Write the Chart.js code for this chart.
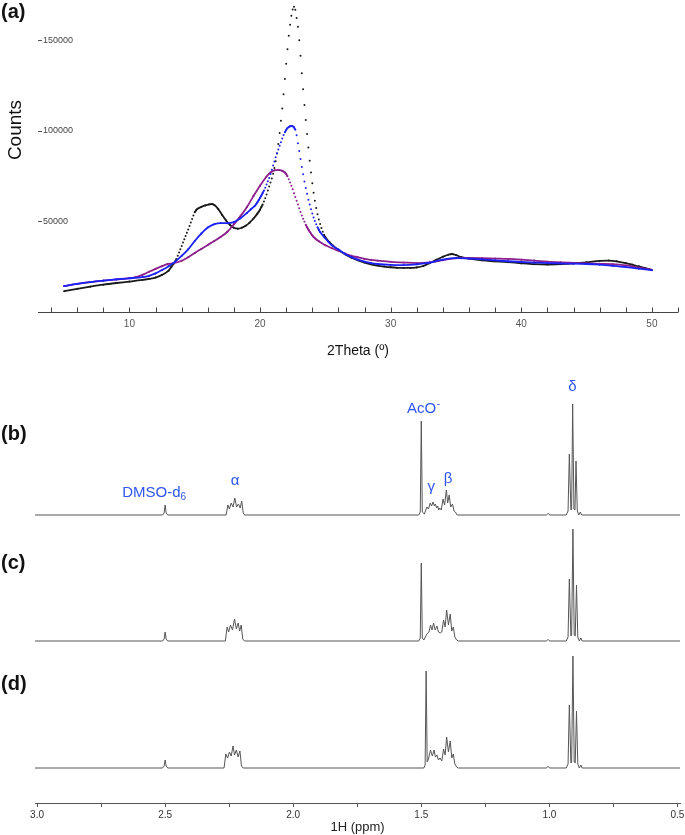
<!DOCTYPE html>
<html><head><meta charset="utf-8">
<script src="https://cdn.jsdelivr.net/npm/chart.js@4.4.1/dist/chart.umd.min.js"></script>
<style>
html,body{margin:0;padding:0;background:#fff;width:685px;height:835px;overflow:hidden;font-family:"Liberation Sans",Arial,Helvetica,sans-serif}
canvas{position:absolute;left:0}
.panel{position:absolute;left:1px;font-weight:bold;font-size:20px;line-height:20px;color:#111}
#counts{position:absolute;left:-25px;top:119px;width:80px;height:22px;line-height:22px;text-align:center;font-size:19px;color:#111;transform:rotate(-90deg);transform-origin:50% 50%}
</style></head>
<body>
<canvas id="xrd" width="685" height="365" style="top:0"></canvas>
<canvas id="nmrB" width="685" height="155" style="top:370px"></canvas>
<canvas id="nmrC" width="685" height="135" style="top:515px"></canvas>
<canvas id="nmrD" width="685" height="190" style="top:645px"></canvas>
<div class="panel" style="top:1px">(a)</div>
<div class="panel" style="top:423px">(b)</div>
<div class="panel" style="top:552px">(c)</div>
<div class="panel" style="top:673px">(d)</div>
<div id="counts">Counts</div>
<script>
// ---------------- XRD data: [2Theta (deg), counts] ----------------
const xrdBlack = [[5,11500],[6,12800],[7,14000],[8,15100],[9,16000],[10,16800],[11,17700],[11.5,18300],[12,19000],[12.5,20500],[13,22800],[13.2,24800],
[13.4,26800],[13.5,27900],[13.6,29200],[13.7,31000],[13.8,32800],[13.9,34600],[14.0,36400],[14.1,38300],[14.2,40200],[14.3,42000],[14.4,43800],[14.5,45600],[14.6,47400],[14.7,49400],[14.8,51400],[14.9,53300],[15.0,55000],[15.1,56100],[15.2,56900],
[15.5,58000],[15.8,58800],[16.1,59400],[16.3,59600],[16.5,59000],[16.8,56800],[17.1,53500],[17.4,50500],[17.7,48000],[18.0,46500],[18.3,46000],[18.6,46500],[18.9,47600],[19.2,49300],[19.5,51600],
[19.8,54300],[19.9,55400],[20.0,56500],[20.1,57900],[20.2,59300],[20.3,61000],[20.4,62800],[20.5,64800],[20.6,67000],[20.7,69300],[20.8,71500],[20.9,73700],[21.0,76300],[21.1,79500],[21.2,83200],[21.3,87500],[21.4,92700],[21.5,98800],[21.6,105500],[21.7,112300],[21.8,120200],[21.9,128600],[22.0,137000],[22.1,145000],[22.2,152500],[22.3,158600],[22.4,163500],[22.5,167000],[22.6,168500],[22.7,166800],[22.8,162300],[22.9,157500],[23.0,150000],[23.1,141500],[23.2,131800],[23.3,123000],[23.4,114300],[23.5,106000],[23.6,98300],[23.7,90800],[23.8,83500],[23.9,77000],[24.0,71000],[24.1,65800],[24.2,61400],[24.3,57400],[24.4,54000],[24.5,51000],[24.6,48600],[24.7,46300],[24.8,44300],[24.9,42600],[25.0,41200],
[25.3,38700],[25.6,36500],[26,34300],[26.5,31900],[27,30000],[27.5,28500],[28,27300],[28.5,26300],[29,25600],[29.5,25100],[30,24700],[30.5,24400],[31,24300],[31.5,24300],[32,24600],[32.5,25400],[33,27000],[33.5,28800],[34,30500],[34.4,31600],[34.7,32000],[35,31400],[35.4,30300],[36,29500],[37,28500],[38,28000],[39,27500],[40,26900],[41,26400],[42,26200],[43,26400],[44,26800],[45,27400],[46,28200],[46.7,28400],[47.3,28000],[48,27000],[48.5,26100],[49,25200],[49.5,24200],[50,23200]];

const xrdBlue = [[5,14300],[6,15500],[7,16500],[8,17300],[9,18000],[10,18600],[11,19300],[11.5,20000],[12,21300],[12.5,23200],[13,25300],[13.5,27800],[14,31000],[14.5,34600],[15,39200],[15.5,43300],[16,46600],[16.5,48500],[17,49100],[17.5,49000],[18,49600],[18.5,51700],[19,54700],[19.3,56700],
[19.6,58600],[19.7,59500],[19.8,60600],[19.9,61800],[20.0,63000],[20.1,64300],[20.2,65700],[20.3,67100],[20.4,68600],[20.5,70400],[20.6,72200],[20.7,74000],[20.8,76200],[20.9,78500],[21.0,80800],[21.1,83100],[21.2,85400],[21.3,87600],[21.4,89700],[21.5,91700],[21.6,93700],[21.7,95700],[21.8,97700],[21.9,99200],[22.0,100500],[22.1,101500],[22.2,102100],[22.3,102500],[22.4,102700],[22.5,102500],[22.6,101900],[22.7,100600],[22.8,97500],[22.9,93200],[23.0,88900],[23.1,84500],[23.2,80000],[23.3,76000],[23.4,72000],[23.5,68500],[23.6,65200],[23.7,62000],[23.8,59300],[23.9,56700],[24.0,54300],[24.1,52200],[24.2,50200],[24.3,48400],[24.4,46800],[24.5,45400],[24.6,44100],
[24.9,41400],[25.2,39000],[25.5,36800],[26,34500],[26.5,32200],[27,30300],[27.5,28900],[28,27800],[28.5,27000],[29,26500],[30,26000],[31,25900],[32,26300],[33,27200],[34,28900],[35,29700],[36,29500],[37,29100],[38,28500],[39,28000],[40,27600],[41,27300],[42,27000],[43,26800],[44,26700],[45,26500],[46,26100],[47,25500],[48,24800],[49,23900],[50,23100]];

const xrdPurple = [[5,14300],[6,15500],[7,16500],[8,17300],[9,18000],[10,18700],[10.5,19300],[11,20500],[11.5,22200],[12,23800],[12.5,25300],[12.9,26400],[13.4,27000],[14,28300],[14.5,30200],[15,32600],[15.5,34800],[16,37000],[16.5,39200],[17,41500],[17.5,44300],[18,48400],[18.5,52900],[19,58000],[19.5,64000],[20,69700],[20.5,74800],[20.8,77000],[21.1,78200],[21.4,78400],[21.7,77900],
[21.8,77500],[21.9,77000],[22.0,76200],[22.1,74900],[22.2,73300],[22.3,71500],[22.4,69700],[22.5,67700],[22.6,65600],[22.7,63500],[22.8,61400],[22.9,59300],[23.0,57200],[23.1,55200],[23.2,53300],[23.3,51500],[23.4,49800],[23.5,48200],[23.6,46800],[23.7,45500],[23.8,44300],[23.9,43300],[24.0,42300],[24.1,41400],[24.2,40700],
[24.5,39000],[25,36800],[25.5,35200],[26,33800],[26.5,32300],[27,31000],[27.5,30200],[28,29300],[28.5,28800],[29,28300],[30,27700],[31,27300],[32,27000],[33,27400],[34,28600],[35,29700],[36,29800],[37,29700],[38,29500],[39,29300],[40,28900],[41,28400],[42,27800],[43,27400],[44,27100],[45,26800],[46,26600],[47,26400],[48,25700],[49,24500],[50,23200]];

const xrdXTicks = [10, 20, 30, 40, 50];
const xrdYTicks = [50000, 100000, 150000];

// ---------------- 1H NMR data: [ppm, intensity (a.u.)] ----------------
const nmrB = [[3.008,0],[2.51,0],[2.504,2],[2.5,10],[2.496,2],[2.49,0],
[2.262,0],[2.255,10],[2.249,6],[2.242,12],[2.235,8],[2.228,17],[2.221,8],[2.214,11],[2.207,7],[2.201,14],[2.195,2],[2.19,0],
[1.51,0],[1.504,3],[1.5,94],[1.496,3],
[1.488,1],[1.478,8],[1.472,6],[1.465,12],[1.46,9],[1.454,13],[1.449,9],[1.445,11],[1.44,7],[1.436,9],[1.432,5],[1.428,7],[1.422,5],[1.415,16],[1.409,10],[1.402,25],[1.397,12],[1.391,20],[1.385,8],[1.378,11],[1.372,4],[1.367,3],[1.36,0],
[1.012,0],[1.005,1.5],[0.998,0],
[0.934,0],[0.927,4],[0.922,61],[0.916,5],[0.913,6],[0.909,111],[0.904,6],[0.9,5],[0.896,54],[0.891,4],[0.885,0],[0.879,3],[0.874,0],
[0.49,0]];

const nmrC = [[3.008,0],[2.51,0],[2.504,2],[2.5,9],[2.496,2],[2.49,0],
[2.265,0],[2.258,14],[2.252,9],[2.245,16],[2.237,11],[2.229,22],[2.222,12],[2.215,18],[2.209,10],[2.203,16],[2.197,2],[2.19,0],
[1.51,0],[1.504,3],[1.5,78],[1.496,3],
[1.49,1],[1.478,7],[1.47,9],[1.464,16],[1.458,11],[1.452,18],[1.446,11],[1.439,15],[1.433,9],[1.426,8],[1.42,9],[1.413,21],[1.407,14],[1.401,31],[1.394,16],[1.387,27],[1.381,10],[1.375,14],[1.369,4],[1.362,1],[1.355,0],
[1.012,0],[1.005,1.5],[0.998,0],
[0.934,0],[0.927,4],[0.922,62],[0.916,5],[0.913,6],[0.908,112],[0.903,6],[0.899,5],[0.894,56],[0.889,4],[0.883,0],[0.877,3],[0.872,0],
[0.49,0]];

const nmrD = [[3.008,0],[2.51,0],[2.504,2],[2.5,8],[2.496,2],[2.49,0],
[2.27,0],[2.263,14],[2.256,10],[2.249,16],[2.242,12],[2.235,22],[2.229,13],[2.222,18],[2.215,11],[2.208,17],[2.202,2],[2.195,0],
[1.49,0],[1.485,3],[1.481,97],[1.477,6],
[1.472,9],[1.464,18],[1.457,12],[1.45,18],[1.445,11],[1.439,13],[1.433,8],[1.427,10],[1.42,7],[1.413,19],[1.407,13],[1.401,31],[1.394,16],[1.387,27],[1.381,10],[1.375,14],[1.369,4],[1.362,1],[1.355,0],
[1.012,0],[1.005,1.5],[0.998,0],
[0.934,0],[0.927,4],[0.922,63],[0.916,5],[0.913,6],[0.908,112],[0.903,6],[0.899,5],[0.894,57],[0.889,4],[0.883,0],[0.877,3],[0.872,0],
[0.49,0]];

const nmrTicks = [3.0, 2.75, 2.5, 2.25, 2.0, 1.75, 1.5, 1.25, 1.0, 0.75, 0.5];
const nmrTickLabels = [3.0, 2.5, 2.0, 1.5, 1.0, 0.5];

// peak assignments shown over spectrum (b): anchor ppm and height (a.u.)
const nmrAnnotations = [
  {text:'DMSO-d', sub:'6', ppm:2.543, h:22},
  {text:'\u03B1', ppm:2.227, h:34},
  {text:'AcO', sup:'-', ppm:1.492, h:106},
  {text:'\u03B3', ppm:1.461, h:28},
  {text:'\u03B2', ppm:1.395, h:36},
  {text:'\u03B4', ppm:0.910, h:128}
];

// ---------------- rendering ----------------
const FONT = '"Liberation Sans", Arial, Helvetica, sans-serif';
Chart.defaults.font.family = FONT;

function isSteep(c) {
  const a = c.p0, b = c.p1;
  return Math.abs(b.y - a.y) > 2 * Math.abs(b.x - a.x);
}
function xrdSet(pairs, color, order) {
  return {
    data: pairs.map(p => ({x: p[0], y: p[1]})),
    borderColor: color, backgroundColor: color,
    pointRadius: 1, pointBorderWidth: 0, pointBackgroundColor: color,
    borderWidth: 1.8, cubicInterpolationMode: 'monotone', order: order,
    segment: { borderColor: c => isSteep(c) ? 'rgba(0,0,0,0)' : color }
  };
}

const xrdAxisPlugin = {
  id: 'xrdAxis',
  afterDraw(chart) {
    const {ctx, chartArea: a, scales: {x, y}} = chart;
    ctx.save();
    ctx.strokeStyle = '#444'; ctx.lineWidth = 1;
    ctx.beginPath();
    const yb = Math.round(a.bottom) + 0.5;
    ctx.moveTo(a.left, yb); ctx.lineTo(a.right, yb);
    for (let t = 4; t <= 52; t += 2) {
      const px = Math.round(x.getPixelForValue(t)) + 0.5;
      ctx.moveTo(px, yb); ctx.lineTo(px, yb - 5);
    }
    ctx.stroke();
    ctx.strokeStyle = '#555';
    ctx.beginPath();
    for (const v of xrdYTicks) {
      const py = Math.round(y.getPixelForValue(v)) + 0.5;
      ctx.moveTo(a.left, py); ctx.lineTo(a.left + 4, py);
    }
    ctx.stroke();
    ctx.restore();
  }
};

new Chart(document.getElementById('xrd'), {
  type: 'line',
  data: { datasets: [ xrdSet(xrdBlue, '#1c22f5', 0), xrdSet(xrdPurple, '#8d1f8d', 1), xrdSet(xrdBlack, '#1a1a1a', 2) ] },
  options: {
    responsive: false, animation: false, events: [],
    layout: { padding: { left: 38, right: 7, top: 0, bottom: 0 } },
    plugins: { legend: { display: false }, tooltip: { enabled: false } },
    scales: {
      x: {
        type: 'linear', min: 3, max: 52,
        afterBuildTicks: s => { s.ticks = xrdXTicks.map(v => ({value: v})); },
        afterFit: s => { s.height = 53; s.paddingLeft = 0; s.paddingRight = 0; },
        grid: { display: false, drawTicks: false }, border: { display: false },
        ticks: { padding: 6, color: '#555', font: { size: 10 }, maxRotation: 0, autoSkip: false, callback: v => String(v) },
        title: { display: true, text: '2Theta (\u00BA)', color: '#111', font: { size: 14 }, padding: { top: 0, bottom: 5 } }
      },
      y: {
        type: 'linear', min: 0, max: 170000,
        afterBuildTicks: s => { s.ticks = xrdYTicks.map(v => ({value: v})); },
        afterFit: s => { s.width = 0; s.paddingTop = 0; s.paddingBottom = 0; },
        grid: { display: false, drawTicks: false }, border: { display: false },
        ticks: { mirror: true, padding: 5, color: '#444', font: { size: 9 }, callback: v => String(v) }
      }
    }
  },
  plugins: [xrdAxisPlugin]
});

const annotationPlugin = {
  id: 'nmrAnno',
  afterDatasetsDraw(chart) {
    const {ctx, scales: {x, y}} = chart;
    ctx.save();
    ctx.fillStyle = '#2f55ee';
    ctx.textBaseline = 'middle';
    ctx.textAlign = 'left';
    const main = '15px ' + FONT, small = '10px ' + FONT;
    for (const a of nmrAnnotations) {
      ctx.font = main;
      const w1 = ctx.measureText(a.text).width;
      let w2 = 0;
      const extra = a.sub || a.sup;
      if (extra) { ctx.font = small; w2 = ctx.measureText(extra).width; }
      const cx = x.getPixelForValue(a.ppm), cy = y.getPixelForValue(a.h);
      const x0 = cx - (w1 + w2) / 2;
      ctx.font = main;
      ctx.fillText(a.text, x0, cy);
      if (a.sub) { ctx.font = small; ctx.fillText(a.sub, x0 + w1, cy + 4); }
      if (a.sup) { ctx.font = small; ctx.fillText(a.sup, x0 + w1 + 0.5, cy - 5); }
    }
    ctx.restore();
  }
};

function nmrChart(id, pairs, yMin, yMax, withAxis, extraPlugins) {
  const xScale = {
    type: 'linear', reverse: true, min: 0.49, max: 3.008, display: withAxis
  };
  if (withAxis) {
    Object.assign(xScale, {
      afterBuildTicks: s => { s.ticks = nmrTicks.map(v => ({value: v})); },
      afterFit: s => { s.height = 32; s.paddingLeft = 0; s.paddingRight = 0; },
      grid: { display: true, drawOnChartArea: false, drawTicks: true, tickLength: 4, tickColor: '#555', color: '#555' },
      border: { display: true, color: '#555', width: 1 },
      ticks: { padding: 2, color: '#333', font: { size: 10 }, maxRotation: 0, autoSkip: false,
        callback: v => nmrTickLabels.some(t => Math.abs(t - v) < 1e-6) ? v.toFixed(1) : '' },
      title: { display: true, text: '1H (ppm)', color: '#222', font: { size: 13 }, padding: { top: 0, bottom: 0 } }
    });
  }
  return new Chart(document.getElementById(id), {
    type: 'line',
    data: { datasets: [{
      data: pairs.map(p => ({x: p[0], y: p[1]})),
      borderColor: '#555', borderWidth: 1, pointRadius: 0, tension: 0, fill: false
    }] },
    options: {
      responsive: false, animation: false, events: [],
      layout: { padding: { left: 35, right: 5, top: 0, bottom: 0 } },
      plugins: { legend: { display: false }, tooltip: { enabled: false } },
      scales: { x: xScale, y: { type: 'linear', min: yMin, max: yMax, display: false } }
    },
    plugins: extraPlugins || []
  });
}

nmrChart('nmrB', nmrB, -10, 145, false, [annotationPlugin]);
nmrChart('nmrC', nmrC, -9, 126, false);
nmrChart('nmrD', nmrD, -35, 123, true);
</script>
</body></html>
